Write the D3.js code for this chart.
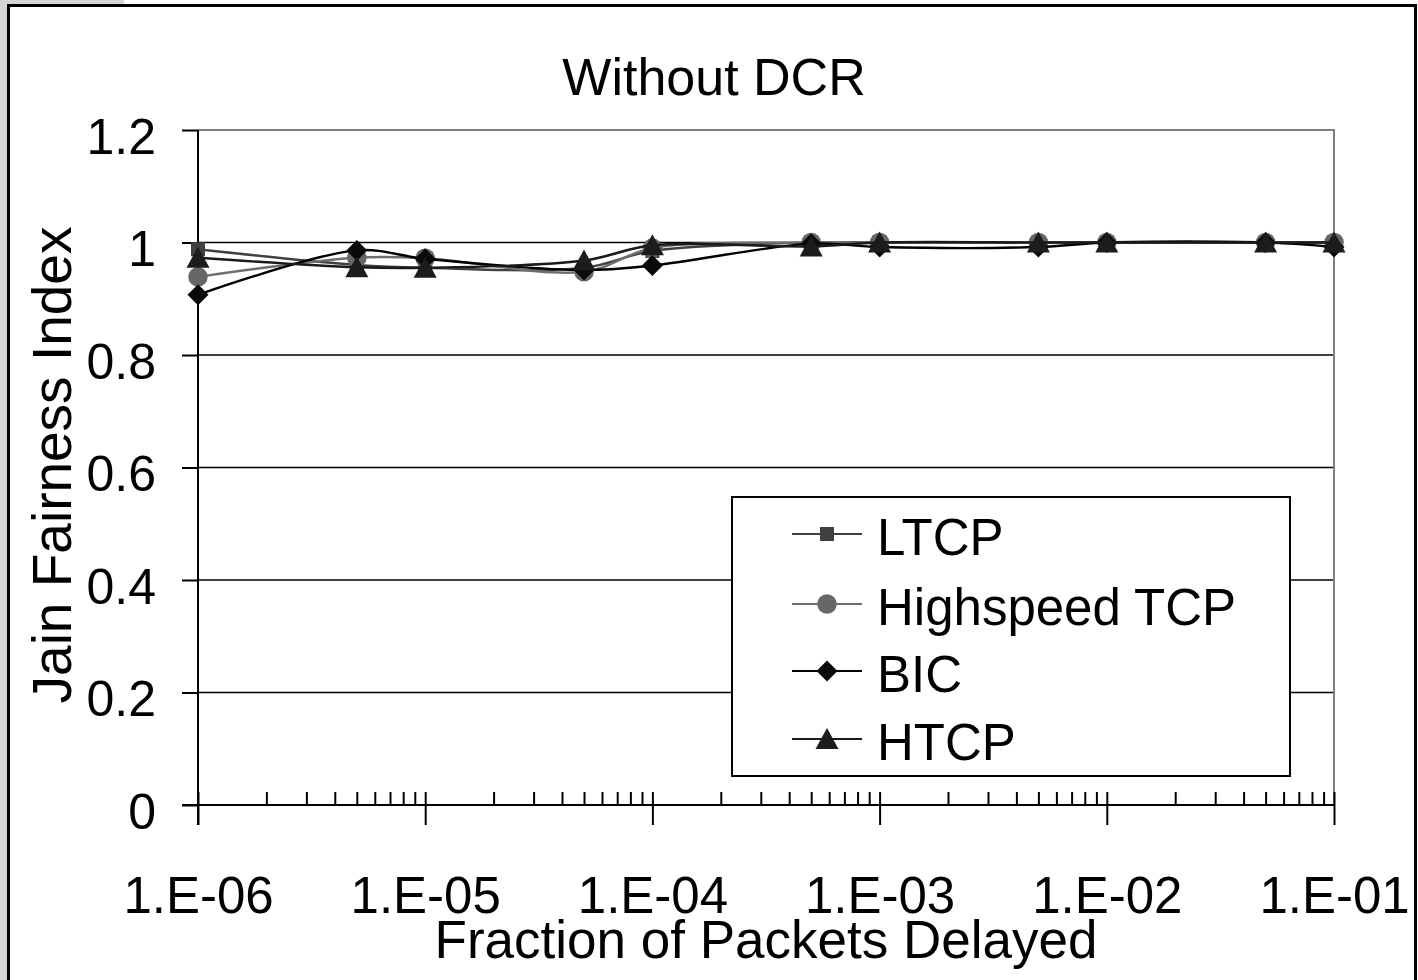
<!DOCTYPE html>
<html>
<head>
<meta charset="utf-8">
<script src="https://cdn.jsdelivr.net/npm/d3@7"></script>
<style>
  html, body { margin: 0; padding: 0; background: #ffffff; }
  svg { display: block; }
  text { font-family: "Liberation Sans", Arial, sans-serif; fill: #000; }
</style>
</head>
<body>
<svg id="chart" width="1418" height="980"></svg>
<script>
// ---- data ----
const xValues = [1e-6, 5e-6, 1e-5, 5e-5, 1e-4, 5e-4, 1e-3, 5e-3, 1e-2, 5e-2, 1e-1];
const seriesNames = ["LTCP", "Highspeed TCP", "BIC", "HTCP"];
const ltcp      = [0.988, 0.960, 0.955, 0.955, 0.985, 1.000, 1.000, 1.000, 1.000, 1.000, 1.000];
const highspeed = [0.939, 0.973, 0.972, 0.948, 0.990, 1.000, 1.000, 1.000, 1.000, 1.000, 1.000];
const bic       = [0.907, 0.986, 0.971, 0.951, 0.959, 0.998, 0.992, 0.992, 1.000, 1.000, 0.992];
const htcp      = [0.973, 0.956, 0.955, 0.968, 0.995, 0.993, 1.000, 1.000, 1.000, 1.000, 1.000];
const yTicks = [0, 0.2, 0.4, 0.6, 0.8, 1, 1.2];
const yTickLabels = ["0", "0.2", "0.4", "0.6", "0.8", "1", "1.2"];
const xMajorTicks = [1e-6, 1e-5, 1e-4, 1e-3, 1e-2, 1e-1];
const xTickLabels = ["1.E-06", "1.E-05", "1.E-04", "1.E-03", "1.E-02", "1.E-01"];
const titleText = "Without DCR";
const xTitle = "Fraction of Packets Delayed";
const yTitle = "Jain Fairness Index";

// ---- layout ----
const L = 198, R = 1334, T = 130, B = 805;
const svg = d3.select("#chart");

// outer decoration
svg.append("rect").attr("x", 0).attr("y", 0).attr("width", 8).attr("height", 980).attr("fill", "#d4d4d4");
svg.append("rect").attr("x", 0).attr("y", 0).attr("width", 124).attr("height", 5).attr("fill", "#d4d4d4");
svg.append("rect").attr("x", 8.5).attr("y", 5.5).attr("width", 1407).attr("height", 1000)
  .attr("fill", "#ffffff").attr("stroke", "#000").attr("stroke-width", 3);

const x = d3.scaleLog().domain([1e-6, 1e-1]).range([L, R]);
const y = d3.scaleLinear().domain([0, 1.2]).range([B, T]);

// gridlines
svg.append("g").selectAll("line").data(yTicks.filter(v => v > 0 && v < 1.2)).join("line")
  .attr("x1", L).attr("x2", R).attr("y1", d => y(d)).attr("y2", d => y(d))
  .attr("stroke", "#000").attr("stroke-width", 1.6);

// gray plot border (top, right)
svg.append("path")
  .attr("d", `M${L},${y(1.2)}H${R}V${B}`)
  .attr("fill", "none").attr("stroke", "#808080").attr("stroke-width", 2);

// minor ticks (inside, upward) for every 1..9 x decade
const minorTicks = [];
for (let e = -6; e < -1; e++) for (let m = 2; m <= 9; m++) minorTicks.push(m * Math.pow(10, e));
const xMinorAxis = d3.axisBottom(x).tickValues(minorTicks.concat(xMajorTicks)).tickSize(-13).tickFormat("");
svg.append("g").attr("transform", `translate(0,${B})`).call(xMinorAxis)
  .call(g => g.select(".domain").remove())
  .call(g => g.selectAll("line").attr("stroke", "#000").attr("stroke-width", 2));

// major x axis
const xAxis = d3.axisBottom(x).tickValues(xMajorTicks).tickSizeInner(20).tickSizeOuter(0)
  .tickFormat((d, i) => xTickLabels[i]);
svg.append("g").attr("transform", `translate(0,${B})`).call(xAxis)
  .call(g => g.select(".domain").attr("stroke", "#000").attr("stroke-width", 2)
      .attr("d", `M${L - 16},0H${R}`))
  .call(g => g.selectAll("line").attr("stroke", "#000").attr("stroke-width", 2))
  .call(g => g.selectAll("text").attr("y", 108).attr("dy", 0)
      .style("font-size", "51px").attr("fill", "#000"));

// y axis
const yAxis = d3.axisLeft(y).tickValues(yTicks).tickSizeInner(16).tickSizeOuter(0).tickPadding(26)
  .tickFormat((d, i) => yTickLabels[i]);
svg.append("g").attr("transform", `translate(${L},0)`).call(yAxis)
  .call(g => g.select(".domain").attr("stroke", "#000").attr("stroke-width", 2)
      .attr("d", `M0,${T}V${B + 20}`))
  .call(g => g.selectAll("line").attr("stroke", "#000").attr("stroke-width", 2))
  .call(g => g.selectAll("text").attr("dy", 23).style("font-size", "50px").attr("fill", "#000"));

// ---- series ----
const seriesData = [ltcp, highspeed, bic, htcp];
const lineColors = ["#404040", "#6e6e6e", "#000000", "#1a1a1a"];
const markerColors = ["#404040", "#676767", "#0a0a0a", "#1c1c1c"];
const markerSymbols = [
  d3.symbol().type(d3.symbolSquare).size(196),
  d3.symbol().type(d3.symbolCircle).size(300)
];
const diamondPath = (s) => `M0,${-s}L${s},0L0,${s}L${-s},0Z`;
function markerPath(i) {
  if (i === 2) return diamondPath(10.5);
  if (i === 3) return "M0,-11L11.5,10L-11.5,10Z";
  return markerSymbols[i]();
}
const line = d3.line().x(d => x(d[0])).y(d => y(d[1])).curve(d3.curveCatmullRom.alpha(0.5));

seriesData.forEach((vals, i) => {
  const pts = xValues.map((xv, j) => [xv, vals[j]]);
  const g = svg.append("g");
  g.append("path").datum(pts).attr("d", line)
    .attr("fill", "none").attr("stroke", lineColors[i]).attr("stroke-width", 2.4);
  g.selectAll("path.m").data(pts).join("path").attr("class", "m")
    .attr("transform", d => `translate(${x(d[0])},${y(d[1])})`)
    .attr("d", markerPath(i)).attr("fill", markerColors[i]);
});

// ---- legend ----
const lg = svg.append("g");
lg.append("rect").attr("x", 732).attr("y", 497).attr("width", 558).attr("height", 279)
  .attr("fill", "#fff").attr("stroke", "#000").attr("stroke-width", 2);
const legendBaselines = [555, 625, 692, 760];
seriesNames.forEach((name, i) => {
  const by = legendBaselines[i];
  const cy = by - 21;
  lg.append("line").attr("x1", 792).attr("x2", 862).attr("y1", cy).attr("y2", cy)
    .attr("stroke", lineColors[i]).attr("stroke-width", 2);
  lg.append("path").attr("transform", `translate(827,${cy})`).attr("d", markerPath(i))
    .attr("fill", markerColors[i]);
  lg.append("text").attr("x", 877).attr("y", by).style("font-size", "51px").text(name);
});

// ---- titles ----
svg.append("text").attr("x", 714).attr("y", 95).attr("text-anchor", "middle")
  .style("font-size", "52px").text(titleText);
svg.append("text").attr("x", (L + R) / 2).attr("y", 958).attr("text-anchor", "middle")
  .style("font-size", "53px").text(xTitle);
svg.append("text").attr("transform", "translate(71,465) rotate(-90)").attr("text-anchor", "middle")
  .style("font-size", "55px").text(yTitle);
</script>
</body>
</html>
